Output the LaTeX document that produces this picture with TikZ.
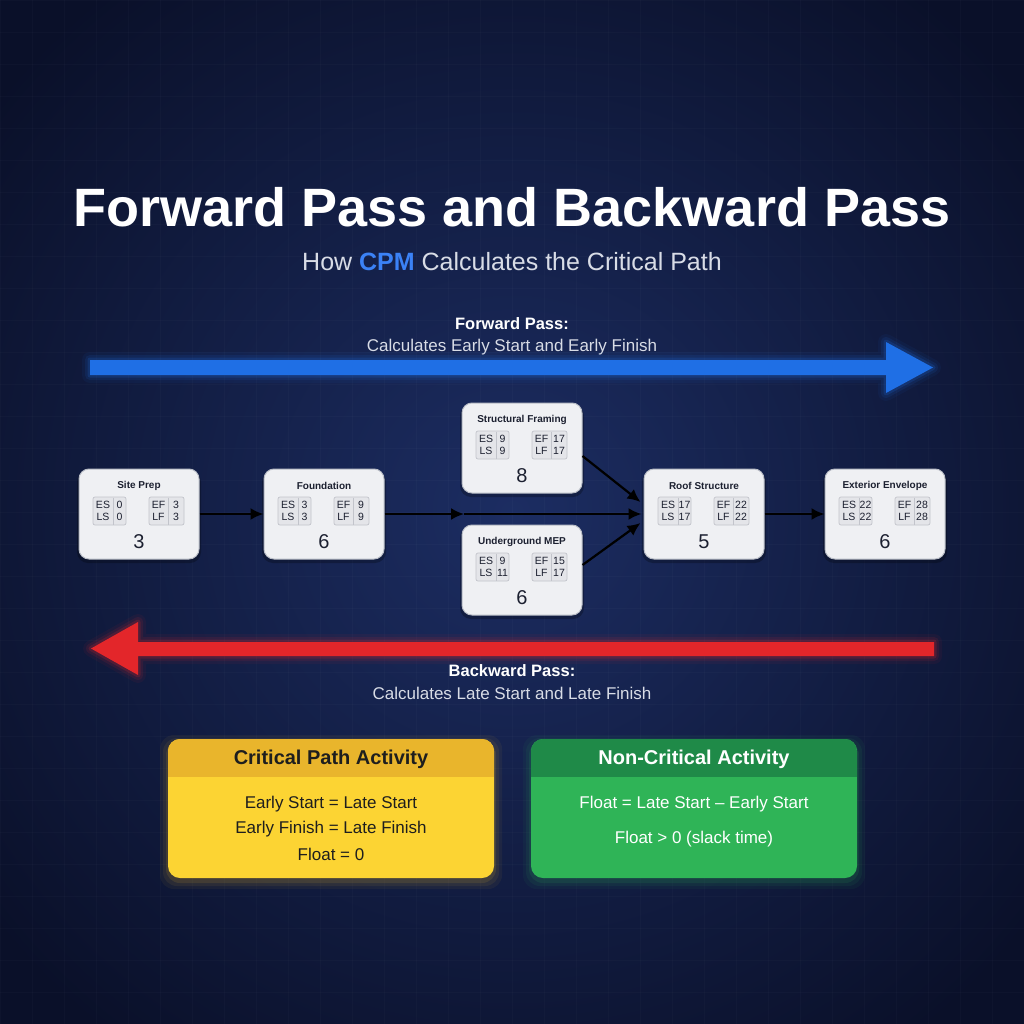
\documentclass[tikz,border=0pt]{standalone}
\usepackage{fontspec}
\setmainfont{Liberation Sans}
\usetikzlibrary{arrows.meta,calc}
\definecolor{bgin}{HTML}{1C2D62}
\definecolor{bgout}{HTML}{0A1029}
\definecolor{fblue}{HTML}{1F6FE5}
\definecolor{bred}{HTML}{E3262A}
\definecolor{boxfill}{HTML}{EFF0F3}
\definecolor{boxdraw}{HTML}{B9BDC6}
\definecolor{tblfill}{HTML}{E4E5E9}
\definecolor{tbldraw}{HTML}{C2C4CB}
\definecolor{boxtext}{HTML}{1C2030}
\definecolor{ybody}{HTML}{FCD433}
\definecolor{yhead}{HTML}{E9B52C}
\definecolor{gbody}{HTML}{2FB457}
\definecolor{ghead}{HTML}{1F8A48}
\definecolor{cpmblue}{HTML}{3B82F6}
\definecolor{subgray}{HTML}{D8DCE6}
\definecolor{ctext}{HTML}{1E1E1E}
\tikzset{
  actbox/.style={draw=boxdraw, fill=boxfill, line width=1pt, rounded corners=10pt,
    minimum width=120pt, minimum height=90pt, inner sep=0pt},
  acttitle/.style={text=boxtext, font=\fontsize{10}{12}\selectfont\bfseries, inner sep=0pt},
  cell/.style={text=boxtext, font=\fontsize{10.5}{12}\selectfont, inner sep=0pt},
  durtext/.style={text=boxtext, font=\fontsize{20}{24}\selectfont, inner sep=0pt},
  tblbox/.style={draw=tbldraw, fill=tblfill, line width=0.7pt, rounded corners=2pt},
  tblline/.style={draw=tbldraw, line width=0.7pt},
  conn/.style={draw=black, line width=2.2pt, -{Latex[length=13pt,width=12pt]}},
  passhead/.style={text=white, font=\fontsize{16.5}{19}\selectfont\bfseries, inner sep=0pt},
  passsub/.style={text=subgray, font=\fontsize{17}{20}\selectfont, inner sep=0pt},
  cardtitle/.style={font=\fontsize{20}{23}\selectfont\bfseries, inner sep=0pt},
  cardline/.style={font=\fontsize{17}{20}\selectfont, inner sep=0pt},
}
\newcommand{\actnode}[9]{%
  \begin{scope}[shift={(#2,#3)}]
    \fill[black, opacity=0.25, rounded corners=11pt] (-2,2) rectangle (122,94);
    \node[actbox] (#1) at (60,45) {};
    \node[acttitle] (#1-t) at (60,17) {#4};
    \draw[tblbox] (14,28) rectangle (47,56);
    \draw[tblline] (34,28.5) -- (34,55.5);
    \draw[tblbox] (70,28) rectangle (105,56);
    \draw[tblline] (89,28.5) -- (89,55.5);
    \node[cell] (#1-esl) at (24,36) {ES};
    \node[cell] (#1-lsl) at (24,48) {LS};
    \node[cell] (#1-es) at (40.5,36) {#5};
    \node[cell] (#1-ls) at (40.5,48) {#6};
    \node[cell] (#1-efl) at (79.5,36) {EF};
    \node[cell] (#1-lfl) at (79.5,48) {LF};
    \node[cell] (#1-ef) at (97,36) {#7};
    \node[cell] (#1-lf) at (97,48) {#8};
    \node[durtext] (#1-d) at (60,73) {#9};
  \end{scope}}
\begin{document}
\begin{tikzpicture}[x=1pt,y=-1pt]
\useasboundingbox (0,0) rectangle (1024,1024);
% background
\shade[inner color=bgin, outer color=bgout] (-150,-150) rectangle (1174,1174);
\foreach \g in {0,32,...,1024}{
  \draw[white, opacity=0.02, line width=0.6pt] (\g,0) -- (\g,1024);
  \draw[white, opacity=0.02, line width=0.6pt] (0,\g) -- (1024,\g);
}
% title
\node[text=white, font=\fontsize{54}{60}\selectfont\bfseries, inner sep=0pt] (title) at (512,207) {Forward Pass and Backward Pass};
\node[text=subgray, font=\fontsize{25}{29}\selectfont, inner sep=0pt] (subtitle) at (512,262) {How {\color{cpmblue}\bfseries CPM} Calculates the Critical Path};
% forward pass arrow
\node[passhead] (fwdh) at (512,324) {Forward Pass:};
\node[passsub] (fwds) at (512,347) {Calculates Early Start and Early Finish};
\foreach \w/\o in {16/0.06,10/0.1,5/0.18}{
  \draw[fblue, line width=\w pt, opacity=\o, line join=round]
    (90,360) -- (886,360) -- (886,342) -- (933,367.5) -- (886,393) -- (886,375) -- (90,375) -- cycle;
}
\fill[fblue] (90,360) -- (886,360) -- (886,342) -- (933,367.5) -- (886,393) -- (886,375) -- (90,375) -- cycle;
% backward pass arrow
\foreach \w/\o in {16/0.06,10/0.1,5/0.18}{
  \draw[bred, line width=\w pt, opacity=\o, line join=round]
    (934,642) -- (138,642) -- (138,622) -- (91,648.5) -- (138,675) -- (138,656) -- (934,656) -- cycle;
}
\fill[bred] (934,642) -- (138,642) -- (138,622) -- (91,648.5) -- (138,675) -- (138,656) -- (934,656) -- cycle;
\node[passhead] (bwdh) at (512,671) {Backward Pass:};
\node[passsub] (bwds) at (512,693) {Calculates Late Start and Late Finish};
% activity nodes
\actnode{site}{79}{469}{Site Prep}{0}{0}{3}{3}{3}
\actnode{found}{264}{469}{Foundation}{3}{3}{9}{9}{6}
\actnode{sf}{462}{403}{Structural Framing}{9}{9}{17}{17}{8}
\actnode{mep}{462}{525}{Underground MEP}{9}{11}{15}{17}{6}
\actnode{roof}{644}{469}{Roof Structure}{17}{17}{22}{22}{5}
\actnode{ext}{825}{469}{Exterior Envelope}{22}{22}{28}{28}{6}
% connectors
\coordinate (mid) at (464,514);
\draw[conn] (site.east) -- (found.west);
\draw[conn] (found.east) -- (mid);
\draw[conn] (mid) -- ([xshift=-2pt]roof.west);
\draw[conn] ([yshift=-8pt]sf.east) -- ([xshift=-3pt,yshift=12pt]roof.west);
\draw[conn] ([yshift=5pt]mep.east) -- ([xshift=-3pt,yshift=-9pt]roof.west);
\draw[conn] (roof.east) -- (ext.west);
% critical card
\foreach \e/\o in {8/0.06,5/0.08,2/0.12}{
  \fill[yhead, opacity=\o, rounded corners=14pt] (168-\e,739-\e+4) rectangle (494+\e,878+\e+3);
}
\fill[ybody, rounded corners=12pt] (168,739) rectangle (494,878);
\begin{scope}
  \clip[rounded corners=12pt] (168,739) rectangle (494,878);
  \fill[yhead] (168,739) rectangle (494,777);
\end{scope}
\node[cardtitle, text=ctext] (critt) at (331,759) {Critical Path Activity};
\node[cardline, text=ctext] (crit1) at (331,804) {Early Start = Late Start};
\node[cardline, text=ctext] (crit2) at (331,829) {Early Finish = Late Finish};
\node[cardline, text=ctext] (crit3) at (331,854) {Float = 0};
% non-critical card
\foreach \e/\o in {8/0.06,5/0.08,2/0.12}{
  \fill[gbody, opacity=\o, rounded corners=14pt] (531-\e,739-\e+4) rectangle (857+\e,878+\e+3);
}
\fill[gbody, rounded corners=12pt] (531,739) rectangle (857,878);
\begin{scope}
  \clip[rounded corners=12pt] (531,739) rectangle (857,878);
  \fill[ghead] (531,739) rectangle (857,777);
\end{scope}
\node[cardtitle, text=white] (noncritt) at (694,759) {Non-Critical Activity};
\node[cardline, text=white] (noncrit1) at (694,804) {Float = Late Start – Early Start};
\node[cardline, text=white] (noncrit2) at (694,839) {Float > 0 (slack time)};
\end{tikzpicture}
\end{document}
